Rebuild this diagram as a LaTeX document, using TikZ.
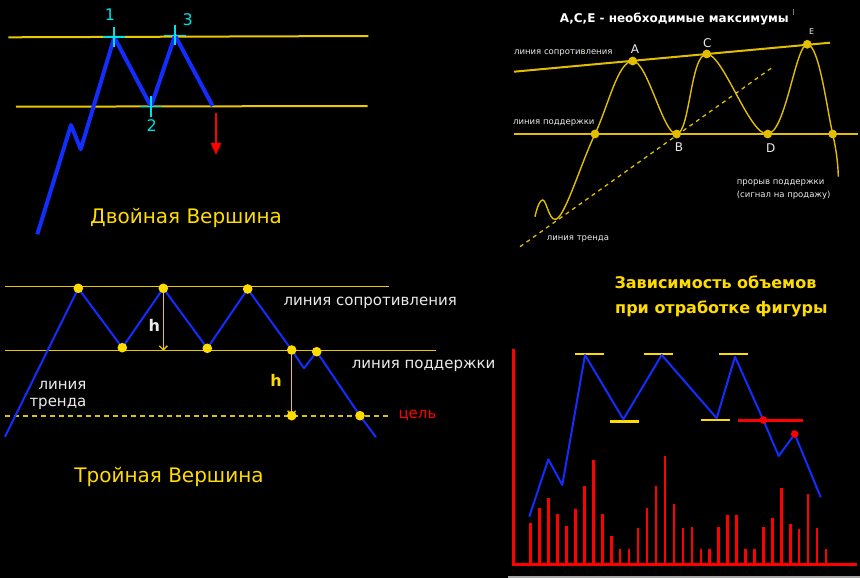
\documentclass[tikz,border=0pt]{standalone}
\usepackage{fontspec}
\setmainfont{DejaVu Sans}
\usetikzlibrary{arrows.meta}
\definecolor{lineyellow}{RGB}{235,200,0}
\definecolor{curveyellow}{RGB}{225,190,0}
\definecolor{titleyellow}{RGB}{255,220,0}
\definecolor{goalyellow}{RGB}{215,195,0}
\definecolor{priceblue}{RGB}{20,45,255}
\definecolor{markcyan}{RGB}{0,225,225}
\definecolor{volred}{RGB}{255,0,0}
\definecolor{lbltext}{RGB}{235,235,235}

\begin{document}
\begin{tikzpicture}[x=1pt, y=-1pt,
    level/.style={lineyellow, line width=2pt},
    thinlevel/.style={lineyellow, line width=0.9pt},
    price/.style={priceblue, line width=2pt, line join=round},
    cross/.style={markcyan, line width=1.7pt},
    dot/.style={fill=titleyellow},
    title/.style={titleyellow, font=\fontsize{20}{22}\selectfont, inner sep=0pt},
    lbl/.style={lbltext, font=\fontsize{15}{17}\selectfont, anchor=west, inner sep=0pt},
    tiny/.style={lbltext, font=\fontsize{8.5}{10}\selectfont, anchor=west, inner sep=0pt},
    letter/.style={lbltext, font=\fontsize{12}{14}\selectfont, inner sep=0pt},
    harr/.style={lineyellow, line width=1.3pt, -{Straight Barb[length=4pt, width=8pt]}},
    bar/.style={volred, line width=2.5pt}
  ]
    \fill[black] (0,0) rectangle (860,578);
    \useasboundingbox (0,0) rectangle (860,578);

    %% Double top
    \draw[level] (8.3,37.3) -- (368.3,36);
    \draw[level] (16,106.7) -- (367.7,106);
    \coordinate (d0) at (37.3,234.3);
    \coordinate (d1) at (71,125);
    \coordinate (d2) at (80.7,149.3);
    \coordinate (p1) at (114.3,37.3);
    \coordinate (p2) at (151,106.5);
    \coordinate (p3) at (175,35.5);
    \coordinate (d3) at (212.7,106);
    \draw[price, line width=4pt] (d0) -- (d1) -- (d2) -- (p1) -- (p2) -- (p3) -- (d3);
    \foreach \p in {p1,p2,p3}
      \draw[cross] (\p) ++(-11,0) -- ++(22,0) (\p) ++(0,-10) -- ++(0,20);
    \node[markcyan, font=\fontsize{16}{18}\selectfont] (n1) at (110,15) {1};
    \node[markcyan, font=\fontsize{16}{18}\selectfont] (n2) at (151.7,126) {2};
    \node[markcyan, font=\fontsize{16}{18}\selectfont] (n3) at (187.7,19.3) {3};
    \coordinate (brk) at (216,113.3);
    \coordinate (tgt) at (216,155);
    \draw[volred, line width=2pt, -{Triangle[length=12pt, width=10pt]}] (brk) -- (tgt);
    \node[title] (dtitle) at (186,218.3) {Двойная Вершина};

    %% Triple top
    \draw[thinlevel] (5,286.7) -- (389.3,286.7);
    \draw[thinlevel] (5,350.7) -- (436,350.7);
    \draw[goalyellow, line width=1.8pt, dash pattern=on 5pt off 4pt] (5,415.7) -- (388.3,415.7);
    \coordinate (t0) at (5,436.7);
    \coordinate (t1) at (78.3,288.3);
    \coordinate (t2) at (122.3,347.7);
    \coordinate (t3) at (163.3,288.3);
    \coordinate (t4) at (207.3,348.3);
    \coordinate (t5) at (247.7,289);
    \coordinate (t6) at (291.7,350);
    \coordinate (t7) at (304,368.3);
    \coordinate (t8) at (316.7,351.7);
    \coordinate (t9) at (360,415.7);
    \coordinate (t10) at (376,437.3);
    \coordinate (goal) at (291.7,415.7);
    \draw[price] (t0) -- (t1) -- (t2) -- (t3) -- (t4) -- (t5) -- (t6) -- (t7) -- (t8) -- (t9) -- (t10);
    \draw[harr] (t3) -- (163.3,350.7);
    \draw[harr] (t6) -- (goal);
    \foreach \p in {t1,t2,t3,t4,t5,t6,t8,t9,goal}
      \fill[dot] (\p) circle (4.8);
    \node[lbltext, font=\bfseries\fontsize{16}{18}\selectfont] (h1) at (154.3,325) {h};
    \node[titleyellow, font=\bfseries\fontsize{16}{18}\selectfont] (h2) at (276,380) {h};
    \node[lbl] (res) at (283.3,303.3) {линия сопротивления};
    \node[lbl] (sup) at (351.7,366) {линия поддержки};
    \node[lbl] (tr1) at (38.3,385) {линия};
    \node[lbl] (tr2) at (29.3,404) {тренда};
    \node[lbl, volred] (goallbl) at (398.3,415.7) {цель};
    \node[title] (ttitle) at (169,476.7) {Тройная Вершина};

    %% A, C, E maxima
    \node[white, font=\bfseries\fontsize{12}{14}\selectfont] (mtitle) at (674.3,19.3) {A,C,E - необходимые максимумы};
    \draw[gray, line width=0.8pt] (793.3,9.5) -- (793.3,15);
    \draw[curveyellow, line width=2pt] (514,71.7) -- (830,42.7);
    \draw[curveyellow, line width=1.5pt] (514,134) -- (858.3,134);
    \draw[curveyellow, line width=1.3pt, dash pattern=on 4pt off 4pt] (520,246.7) -- (773.3,66.7);
    \draw[curveyellow, line width=1.4pt] plot[smooth, tension=0.65] coordinates {
      (535,216.7) (542.7,200) (559.3,216.5) (595,134) (632.7,61) (676.7,134)
      (706.7,54) (767.7,134) (807.3,44.3) (832.7,134) (838.3,176.7)};
    \foreach \p in {(595,134),(632.7,61),(676.7,134),(706.7,54),(767.7,134),(807.3,44.3),(832.7,134)}
      \fill[curveyellow] \p circle (4.4);
    \node[letter] (la) at (635,49.3) {A};
    \node[letter] (lc) at (707.3,42.7) {C};
    \node[lbltext, font=\fontsize{8}{9}\selectfont] (le) at (811.7,31.7) {E};
    \node[letter] (lb) at (679,146.7) {B};
    \node[letter] (ld) at (770.7,148.3) {D};
    \node[tiny] (rsl) at (514,52.7) {линия сопротивления};
    \node[tiny] (spl) at (513,123.3) {линия поддержки};
    \node[tiny] (trl) at (546.7,238.7) {линия тренда};
    \node[tiny] (br1) at (736.7,182.7) {прорыв поддержки};
    \node[tiny] (br2) at (736.7,195) {(сигнал на продажу)};

    %% Volume
    \node[titleyellow, font=\bfseries\fontsize{16}{18}\selectfont, anchor=west, inner sep=0pt] (vt1) at (614.3,282.7) {Зависимость объемов};
    \node[titleyellow, font=\bfseries\fontsize{16}{18}\selectfont, anchor=west, inner sep=0pt] (vt2) at (615,309.3) {при отработке фигуры};
    \draw[gray!70, line width=2pt] (508,576.7) -- (860,576.7);
    \foreach \top [count=\i from 0] in {523.3,507.7,498,514,525.7,509.3,486,460,514,536,549,549,
        528,507.7,486,456,504,528,527.3,549,549,526.7,515,515,549,549,527.3,517.7,488,524,529,494,528,549}
      \draw[bar] (530.7+\i*8.95,564.7) -- (530.7+\i*8.95,\top);
    \draw[volred, line width=3pt] (513.3,349.3) -- (513.3,564.7) -- (857,564.7);
    \coordinate (v0) at (529.3,516.7);
    \coordinate (v1) at (548.3,459.3);
    \coordinate (v2) at (562.3,485);
    \coordinate (v3) at (585,355);
    \coordinate (v4) at (623.3,419.3);
    \coordinate (v5) at (661.7,355);
    \coordinate (v6) at (716.7,418.3);
    \coordinate (v7) at (735,356.7);
    \coordinate (v8) at (763.3,420);
    \coordinate (v9) at (778.7,456);
    \coordinate (v10) at (794.7,434);
    \coordinate (v11) at (820.7,497.3);
    \foreach \a/\b in {575/603.7, 644/672.7, 719/747.7}
      \draw[titleyellow, line width=2.5pt] (\a,354) -- (\b,354);
    \draw[titleyellow, line width=2.5pt] (610,421.3) -- (638.7,421.3);
    \draw[titleyellow, line width=2.5pt] (701.3,420) -- (730,420);
    \draw[volred, line width=2.5pt] (737.7,420.3) -- (803.3,420.3);
    \draw[price] (v0) -- (v1) -- (v2) -- (v3) -- (v4) -- (v5) -- (v6) -- (v7) -- (v8) -- (v9) -- (v10) -- (v11);
    \fill[volred] (v8) circle (3.8);
    \fill[volred] (v10) circle (3.8);
  \end{tikzpicture}
\end{document}
